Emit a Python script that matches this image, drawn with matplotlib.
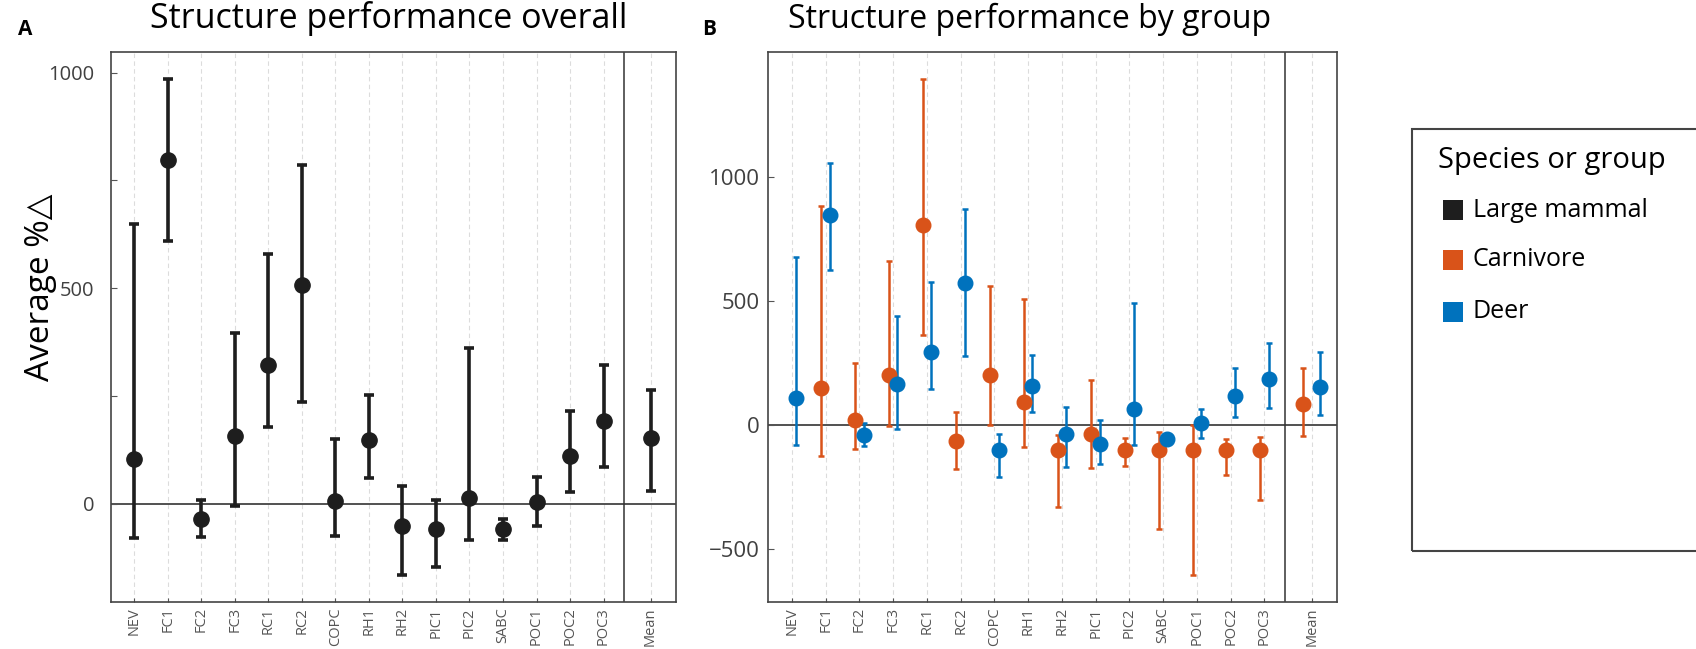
import numpy as np
import matplotlib.pyplot as plt
from matplotlib.patches import Rectangle

plt.rcParams['font.family'] = ['Open Sans', 'DejaVu Sans']

# structures (x axis), plus the overall mean shown in its own box
structures = ['NEV', 'FC1', 'FC2', 'FC3', 'RC1', 'RC2', 'COPC', 'RH1', 'RH2',
              'PIC1', 'PIC2', 'SABC', 'POC1', 'POC2', 'POC3', 'Mean']

# panel A: large mammals overall (average % change, lower / upper CI)
overall_mean = [105, 797, -35, 157, 323, 508, 6, 147, -51, -59, 14, -58, 5, 110, 192, 152]
overall_low = [-80, 610, -78, -5, 179, 236, -75, 60, -164, -147, -85, -84, -51, 28, 86, 29]
overall_high = [650, 986, 8, 395, 579, 786, 150, 252, 41, 8, 362, -35, 61, 216, 322, 265]

# panel B: carnivores (no data for NEV)
carn_mean = [np.nan, 150, 20, 201, 804, -64, 201, 94, -100, -34, -100, -100, -100, -100, -100, 87]
carn_low = [np.nan, -125, -94, -4, 362, -177, 0, -87, -331, -174, -164, -416, -603, -201, -302, -44]
carn_high = [np.nan, 882, 251, 659, 1391, 54, 560, 509, -40, 181, -50, -27, 0, -54, -47, 230]

# panel B: deer
deer_mean = [111, 845, -38, 165, 295, 572, -100, 158, -34, -74, 67, -56, 7, 117, 185, 152]
deer_low = [-80, 626, -82, -16, 147, 279, -208, 54, -168, -157, -80, -76, -50, 34, 71, 39]
deer_high = [676, 1053, 9, 440, 576, 871, -36, 284, 74, 20, 493, -40, 64, 231, 331, 296]

groups = ['Large mammal', 'Carnivore', 'Deer']
group_colors = ['#1e1e1e', '#D95319', '#0072BD']

xpos = np.append(np.arange(15), 15.4)


def style_axes(ax, ylim, yticks, ylabelsize, ypad):
    ax.set_xlim(-0.7, 16.15)
    ax.set_ylim(*ylim)
    ax.set_xticks(xpos)
    ax.set_xticklabels(structures, rotation=90, fontsize=10.5, color='#555555')
    ax.set_yticks(yticks)
    ax.tick_params(axis='y', direction='in', length=4, labelsize=ylabelsize,
                   labelcolor='#404040', pad=ypad, color='#555555')
    ax.tick_params(axis='x', direction='in', length=3, pad=4, color='#555555')
    for x in xpos:
        ax.axvline(x, color='#dcdcdc', lw=0.8, ls=(0, (4, 3)), zorder=0)
    ax.axhline(0, color='#222222', lw=1.1, zorder=1)
    ax.axvline(14.62, color='#333333', lw=1.1, zorder=1)
    for s in ax.spines.values():
        s.set_color('#444444')
        s.set_linewidth(1.2)


def draw_bars(ax, x, mean, low, high, color, ms, lw, cap):
    mean = np.array(mean, dtype=float)
    err = [mean - np.array(low, dtype=float), np.array(high, dtype=float) - mean]
    ax.errorbar(x, mean, yerr=err, fmt='o', color=color, ms=ms, elinewidth=lw,
                capsize=cap, capthick=lw, zorder=3)


fig = plt.figure(figsize=(16.96, 6.49), dpi=100)

# ---- panel A
axA = fig.add_axes([0.0653, 0.0729, 0.3331, 0.8465])
style_axes(axA, (-227, 1047), [0, 250, 500, 750, 1000], 14.5, 12)
axA.set_yticklabels(['0', '', '500', '', '1000'])
draw_bars(axA, xpos, overall_mean, overall_low, overall_high, group_colors[0], 11, 2.6, 3.5)

# ---- panel B
axB = fig.add_axes([0.4530, 0.0729, 0.3353, 0.8465])
style_axes(axB, (-710, 1500), [-500, 0, 500, 1000], 16, 6)
offsets = np.append(np.full(15, 0.125), 0.26)
draw_bars(axB, xpos - offsets, carn_mean, carn_low, carn_high, group_colors[1], 10.5, 1.8, 2.5)
draw_bars(axB, xpos + offsets, deer_mean, deer_low, deer_high, group_colors[2], 10.5, 1.8, 2.5)

# titles, panel letters, y label
fig.text(0.2294, 0.957, 'Structure performance overall', fontsize=24.5, ha='center', va='baseline')
fig.text(0.607, 0.957, 'Structure performance by group', fontsize=23, ha='center', va='baseline')
fig.text(0.0106, 0.955, 'A', fontsize=15, fontweight='bold', ha='left', va='center')
fig.text(0.414, 0.955, 'B', fontsize=15, fontweight='bold', ha='left', va='center')
fig.text(0.024, 0.558, 'Average %\u25b3', fontsize=24, rotation=90, ha='center', va='center')

# legend box drawn by hand so it keeps the tall empty frame of the original
fig.patches.append(Rectangle((0.8325, 0.151), 0.2, 0.650, transform=fig.transFigure,
                             fill=False, edgecolor='#444444', lw=1.5))
fig.text(0.848, 0.753, 'Species or group', fontsize=21, ha='left', va='center')
entry_y = [0.6764, 0.5994, 0.5193]
for name, col, y in zip(groups, group_colors, entry_y):
    fig.patches.append(Rectangle((0.8508, y - 0.0154), 0.0118, 0.0308,
                                 transform=fig.transFigure, facecolor=col, edgecolor='none'))
    fig.text(0.8685, y, name, fontsize=18, ha='left', va='center')

fig.savefig('out.png', dpi=100)
